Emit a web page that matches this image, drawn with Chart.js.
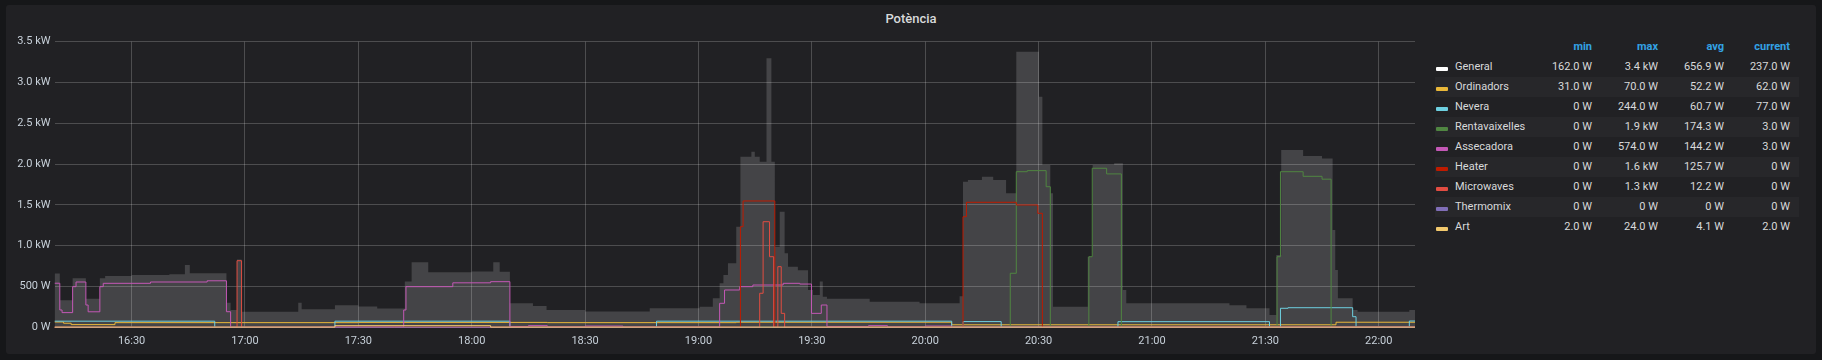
<!DOCTYPE html>
<html><head><meta charset="utf-8">
<script src="https://cdn.jsdelivr.net/npm/chart.js@4.4.1/dist/chart.umd.min.js"></script>
<style>
html,body{margin:0;padding:0;background:#161719;width:1822px;height:360px;overflow:hidden;font-family:Roboto,sans-serif;}
#panel{position:absolute;left:6px;top:5px;width:1810px;height:349px;background:#212124;border-radius:3px;}
#title{position:absolute;left:0;top:10px;width:1822px;text-align:center;font-size:13px;font-weight:500;color:#d8d9da;line-height:18px;}
#chartBox{position:absolute;left:0;top:0;width:1420px;height:360px;}
.row{position:absolute;left:1435px;width:364px;height:20px;}
.stripe{background:#27272a;}
.sw{position:absolute;left:1436px;width:12px;height:4px;border-radius:1px;}
.lbl{position:absolute;left:1455px;font-size:11px;color:#d8d9da;line-height:20px;height:20px;white-space:nowrap;}
.cell{position:absolute;width:90px;text-align:right;font-size:11px;color:#d8d9da;line-height:20px;height:20px;white-space:nowrap;}
.hd{color:#33a2e5;font-weight:700;}
</style></head>
<body>
<div id="panel"></div>
<div id="title">Potència</div>
<div id="chartBox"><canvas id="c" width="1420" height="360"></canvas></div>
<div id="legend"></div>
<script>
// ---- tick labels ----
const xTickLabels = ['16:30','17:00','17:30','18:00','18:30','19:00','19:30','20:00','20:30','21:00','21:30','22:00'];
const yTickValues = [0,500,1000,1500,2000,2500,3000,3500];
const yTickLabels = ['0 W','500 W','1.0 kW','1.5 kW','2.0 kW','2.5 kW','3.0 kW','3.5 kW'];
const timeStart = 969.6, timeEnd = 1329.6; // minutes since midnight

// ---- series (time in minutes, value in W; step values) ----
const generalT = [969.6,971.0,974.4,977.9,981.6,983,990,1000,1004.1,1005.4,1015.1,1016.2,1017.9,1019.1,1034.1,1035.0,1043.8,1050,1055,1062.3,1064.1,1068.5,1080,1085.7,1087.4,1090.1,1096.2,1099.8,1110,1127.1,1140.3,1143.8,1145.6,1146.6,1147.8,1150.0,1151.1,1154.0,1154.9,1156.2,1158.0,1159.3,1160.2,1161.5,1162.8,1163.7,1166.3,1169.0,1170.3,1172.1,1172.9,1174,1185.3,1198.5,1209.1,1210.0,1211.3,1215,1218,1221.4,1224.1,1230.1,1231.0,1233.1,1233.8,1243.0,1244.3,1250,1252.3,1253.2,1270,1280.5,1285,1291.1,1292.9,1294.2,1300,1305,1307.8,1308.5,1309.2,1313.1,1314.4,1328.1,1329.6];
const generalV = [660,330,600,350,600,630,641,650,763,662,300,212,830,191,301,220,270,255,230,560,797,674,685,797,680,294,260,212,195,233,253,355,539,641,784,1233,2091,2152,2091,2030,3297,2030,988,1417,907,743,700,457,396,560,375,350,314,294,380,1784,1805,1846,1805,1642,3378,2826,1989,1642,252,865,1989,2010,457,294,294,270,233,151,886,2173,2100,2070,1192,702,355,212,191,212,237];

const ordinadorsT = [969.6,972,974,985.6,1050,1100,1150,1207.0,1308.7,1329.6];
const ordinadorsV = [65,50,33,57,60,57,62,31,62,62];

const neveraT = [969.6,1012.0,1043.8,1090.1,1128.9,1207.0,1210.0,1220.1,1251.0,1291.1,1294.0,1296,1313.1,1314.0,1328.1,1329.6];
const neveraV = [75,0,75,0,75,0,70,0,69,0,233,240,130,0,77,77];

const rentaT = [969.6,1222.5,1224.1,1227,1232.0,1233.1,1243.3,1244.2,1248,1251.9,1293.1,1294.0,1300,1305,1307.4,1329.6];
const rentaV = [0,662,1907,1920,1723,0,865,1949,1880,3,865,1907,1850,1815,3,3];

const assecT = [969.6,971.0,971.6,974.4,975.3,977.9,978.5,981.6,982.5,995,1010,1015.1,1016.2,1040,1062.0,1062.6,1075,1085,1090.1,1095,1100,1110,1120,1145.6,1146.9,1150.9,1154.4,1162.4,1166.8,1169.9,1172.5,1174.0,1185,1190,1200,1207,1329.6];
const assecV = [540,212,180,498,555,273,190,498,539,555,570,191,0,3,212,498,545,559,10,20,5,15,3,294,457,498,518,539,530,171,273,10,20,5,15,3,3];

const heaterT = [969.6,1151.1,1151.8,1160.2,1210.0,1210.9,1224.1,1229.8,1231.0,1329.6];
const heaterV = [0,1233,1548,0,1355,1532,1499,1397,0,0];

const microT = [969.6,1017.9,1019.1,1156.2,1157.1,1158.8,1159.9,1161.0,1161.9,1162.8,1329.6];
const microV = [0,816,0,417,1294,865,0,743,171,0,0];

const thermoT = [969.6,1329.6];
const thermoV = [0,0];

const artT = [969.6,1043.8,1085.0,1329.6];
const artV = [2,20,2,2];

// ---- legend table text ----
const legendNames = ['General','Ordinadors','Nevera','Rentavaixelles','Assecadora','Heater','Microwaves','Thermomix','Art'];
const legendMin = ['162.0 W','31.0 W','0 W','0 W','0 W','0 W','0 W','0 W','2.0 W'];
const legendMax = ['3.4 kW','70.0 W','244.0 W','1.9 kW','574.0 W','1.6 kW','1.3 kW','0 W','24.0 W'];
const legendAvg = ['656.9 W','52.2 W','60.7 W','174.3 W','144.2 W','125.7 W','12.2 W','0 W','4.1 W'];
const legendCur = ['237.0 W','62.0 W','77.0 W','3.0 W','3.0 W','0 W','0 W','0 W','2.0 W'];
const legendHead = ['min','max','avg','current'];

// ---- helpers ----
const toMin = s => { const p = s.split(':'); return (+p[0])*60 + (+p[1]); };
const pts = (T, V) => T.map((t, i) => ({x: t, y: V[i]}));

const colors = ['#ffffff','#EAB839','#6ED0E0','#508642','#C458B6','#BF1B00','#E24D42','#806EB7','#F2C96D'];
const seriesData = [
  pts(generalT, generalV), pts(ordinadorsT, ordinadorsV), pts(neveraT, neveraV),
  pts(rentaT, rentaV), pts(assecT, assecV), pts(heaterT, heaterV),
  pts(microT, microV), pts(thermoT, thermoV), pts(artT, artV)
];

const datasets = seriesData.map((d, i) => {
  if (i === 0) {
    return { label: legendNames[i], data: d, stepped: true, fill: 'origin',
      backgroundColor: 'rgba(255,255,255,0.16)', borderColor: 'rgba(255,255,255,0)', borderWidth: 0,
      pointRadius: 0, order: 20, clip: {left:0, top:0, right:0, bottom:0} };
  }
  return { label: legendNames[i], data: d, stepped: true, fill: false,
    borderColor: colors[i], borderWidth: 1, pointRadius: 0, order: 10 - i,
    clip: {left:0, top:2, right:0, bottom:2} };
});

const gridColor = 'rgba(255,255,255,0.2)';
const tickFont = {family: 'Roboto', size: 11};
new Chart(document.getElementById('c'), {
  type: 'line',
  data: { datasets },
  options: {
    responsive: false, animation: false, devicePixelRatio: 1,
    layout: { padding: { top: 41.7, right: 5, bottom: 0, left: 0 } },
    plugins: { legend: { display: false }, tooltip: { enabled: false } },
    scales: {
      x: {
        type: 'linear', min: timeStart, max: timeEnd,
        afterBuildTicks: s => { s.ticks = xTickLabels.map(l => ({ value: toMin(l) })); },
        afterFit: s => { s.height = 32.7; },
        ticks: { autoSkip: false, maxRotation: 0, padding: 7, color: '#c7d0d9', font: tickFont,
          callback: v => { const k = xTickLabels.findIndex(l => toMin(l) === v); return k >= 0 ? xTickLabels[k] : ''; } },
        grid: { color: gridColor, drawTicks: false, lineWidth: 1 },
        border: { display: false }
      },
      y: {
        min: 0, max: 3500,
        afterBuildTicks: s => { s.ticks = yTickValues.map(v => ({ value: v })); },
        afterFit: s => { s.width = 54.5; },
        ticks: { padding: 4, color: '#c7d0d9', font: tickFont,
          callback: v => { const k = yTickValues.indexOf(v); return k >= 0 ? yTickLabels[k] : ''; } },
        grid: { color: gridColor, drawTicks: false, lineWidth: 1 },
        border: { display: false }
      }
    }
  }
});

// ---- legend (HTML text) ----
const lg = document.getElementById('legend');
const colRight = [1592, 1658, 1724, 1790];
let html = '';
legendHead.forEach((h, j) => {
  html += `<div class="cell hd" style="left:${colRight[j]-90}px;top:37px">${h}</div>`;
});
legendNames.forEach((n, i) => {
  const top = 57 + 20 * i;
  if (i % 2 === 1) html += `<div class="row stripe" style="top:${top}px"></div>`;
  html += `<div class="sw" style="top:${top+10}px;background:${colors[i]}"></div>`;
  html += `<div class="lbl" style="top:${top}px">${n}</div>`;
  [legendMin[i], legendMax[i], legendAvg[i], legendCur[i]].forEach((v, j) => {
    html += `<div class="cell" style="left:${colRight[j]-90}px;top:${top}px">${v}</div>`;
  });
});
lg.innerHTML = html;
</script>
</body></html>
